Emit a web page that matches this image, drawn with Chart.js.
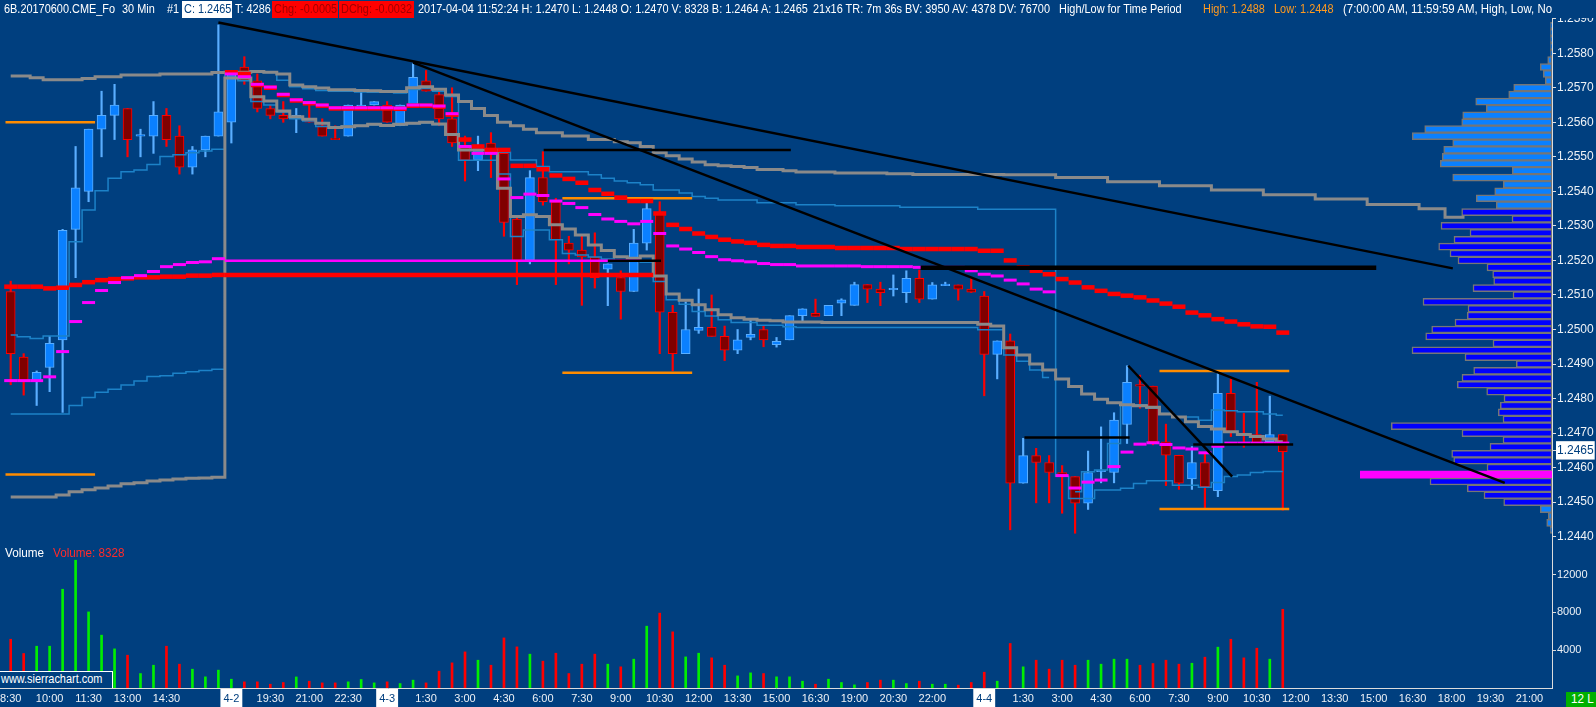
<!DOCTYPE html>
<html><head><meta charset="utf-8"><title>6B.20170600.CME_Fo 30 Min</title>
<script src="https://cdn.jsdelivr.net/npm/chart.js@4.4.1/dist/chart.umd.min.js"></script>
<style>
html,body{margin:0;padding:0;background:#003f7f;}
#wrap{position:relative;width:1596px;height:707px;overflow:hidden;background:#003f7f;}
canvas{position:absolute;display:block;}
.t{position:absolute;top:0;height:18px;line-height:18px;font-family:"Liberation Sans",Arial,sans-serif;font-size:13px;color:#fff;white-space:nowrap;transform:scaleX(0.84);transform-origin:0 0;}
.bx{position:absolute;top:1px;height:17px;overflow:hidden;}
.bx .t{top:-1px;left:2px;}
</style></head>
<body><div id="wrap">
<canvas id="vp" width="1552" height="527" style="left:0;top:18px;width:1552px;height:527px"></canvas>
<canvas id="price" width="1596" height="527" style="left:0;top:18px;width:1596px;height:527px"></canvas>
<canvas id="vol" width="1596" height="162" style="left:0;top:545px;width:1596px;height:162px"></canvas>
<div id="hdr" style="position:absolute;left:0;top:0;width:1552px;height:18px;overflow:hidden;">
 <span class="t" style="left:4px">6B.20170600.CME_Fo</span>
 <span class="t" style="left:122px">30 Min</span>
 <span class="t" style="left:167px">#1</span>
 <div class="bx" style="left:182px;width:50px;background:#fff"><span class="t" style="color:#003f7f">C: 1.2465</span></div>
 <span class="t" style="left:235px">T: 4286</span>
 <div class="bx" style="left:272px;width:66px;background:#f00"><span class="t" style="color:#a00000">Chg: -0.0005</span></div>
 <div class="bx" style="left:339px;width:75px;background:#f00"><span class="t" style="color:#a00000">DChg: -0.0032</span></div>
 <span class="t" style="left:418px">2017-04-04 11:52:24 H: 1.2470 L: 1.2448 O: 1.2470 V: 8328 B: 1.2464 A: 1.2465</span>
 <span class="t" style="left:813px">21x16 TR: 7m 36s BV: 3950 AV: 4378 DV: 76700</span>
 <span class="t" style="left:1059px">High/Low for Time Period</span>
 <span class="t" style="left:1203px;color:#ff9a1f">High: 1.2488</span>
 <span class="t" style="left:1274px;color:#ff9a1f">Low: 1.2448</span>
 <span class="t" style="left:1343px;transform:scaleX(0.88)">(7:00:00 AM, 11:59:59 AM, High, Low, No</span>
</div>
<span class="t" style="left:5px;top:544px;transform:scaleX(0.9)">Volume</span>
<span class="t" style="left:53px;top:544px;color:#ff2a2a;transform:scaleX(0.9)">Volume: 8328</span>
<div style="position:absolute;left:0;top:671px;width:112px;height:16px;border-top:1px solid #fff;border-right:1px solid #fff;background:#003f7f;overflow:hidden">
 <span class="t" style="left:1px;top:-1px;height:16px;line-height:16px">www.sierrachart.com</span></div>
<div style="position:absolute;left:1566px;top:692px;width:30px;height:15px;background:#00b000;overflow:hidden">
 <span class="t" style="left:5px;top:-2px;transform:scaleX(0.9)">12 L</span></div>
</div>
<script>
// ---------- DATA ----------
const opens = [1.2511,1.2492,1.2485,1.2489,1.2497,1.2529,1.2540,1.2558,1.2562,1.2564,
 1.2556,1.2556,1.2562,1.2556,1.2547,1.2552,1.2556,1.2560,1.2576,1.2572,
 1.2564,1.2562,1.2561,1.2561,1.2559,1.25552,1.2556,1.25644,1.2565,1.2565,
 1.2559,1.2565,1.2572,1.2568,1.2561,1.2553,1.2549,1.2554,1.2551,1.2532,
 1.2520,1.2544,1.2537,1.2525,1.2523,1.2521,1.25175,1.2515,1.2511,1.2525,
 1.2534,1.2505,1.2493,1.24997,1.25006,1.2498,1.2494,1.24977,1.2500,1.24956,
 1.2497,1.2504,1.25047,1.2504,1.25076,1.2507,1.2513,1.25117,1.25115,1.25107,
 1.25148,1.25088,1.25127,1.25129,1.25117,1.25097,1.24928,1.24967,1.24555,1.24635,
 1.24615,1.24586,1.24574,1.24497,1.24588,1.24586,1.24725,1.24838,1.24836,1.24675,
 1.24636,1.24567,1.24615,1.24533,1.24815,1.24700,1.24696,1.24675,1.24696];
const highs = [1.2514,1.2493,1.2488,1.2498,1.2529,1.2553,1.2558,1.2569,1.2571,1.2564,
 1.2558,1.2566,1.2564,1.2559,1.2553,1.2556,1.25882,1.2575,1.2579,1.2574,
 1.2565,1.2566,1.2564,1.2565,1.2561,1.2559,1.2565,1.2569,1.2566,1.2566,
 1.2565,1.2577,1.2575,1.2569,1.2570,1.2556,1.2556,1.2557,1.2552,1.2533,
 1.2546,1.25515,1.2538,1.2527,1.2527,1.2528,1.2519,1.2517,1.2529,1.2537,
 1.2537,1.2507,1.2508,1.25117,1.2510,1.2501,1.2500,1.2503,1.2501,1.24977,
 1.2504,1.2506,1.25088,1.2507,1.25089,1.25137,1.2513,1.25137,1.25158,1.25170,
 1.25172,1.25136,1.25137,1.25129,1.25151,1.25110,1.24967,1.24987,1.24685,1.24656,
 1.24635,1.24606,1.24574,1.24648,1.24718,1.24759,1.24895,1.24868,1.24836,1.24726,
 1.24636,1.24661,1.24643,1.24876,1.24857,1.24757,1.24847,1.24807,1.24696];
const lows = [1.2484,1.2481,1.2478,1.2482,1.2476,1.2515,1.2537,1.2550,1.2555,1.2550,
 1.2550,1.2551,1.2553,1.2545,1.2545,1.2550,1.2556,1.2554,1.2571,1.2563,
 1.2561,1.2560,1.2557,1.2560,1.2556,1.2555,1.2556,1.2564,1.2565,1.2560,
 1.2559,1.2565,1.2569,1.2559,1.2553,1.2543,1.2546,1.2544,1.2527,1.2513,
 1.2519,1.2536,1.2513,1.2519,1.2507,1.2512,1.25069,1.2503,1.2511,1.2523,
 1.2493,1.2488,1.2493,1.24989,1.2498,1.2491,1.2493,1.2497,1.2495,1.24949,
 1.2497,1.2502,1.25038,1.2504,1.25040,1.2507,1.25078,1.25069,1.25097,1.25078,
 1.25078,1.25088,1.25127,1.25085,1.25107,1.24808,1.24857,1.2442,1.24555,1.24498,
 1.24498,1.24468,1.2441,1.24479,1.24556,1.24556,1.24670,1.24772,1.24666,1.24548,
 1.24537,1.24537,1.24479,1.24516,1.24690,1.24659,1.24672,1.24675,1.24477];
const closes = [1.2493,1.2485,1.24876,1.2496,1.25287,1.2541,1.2558,1.2562,1.2565,1.2555,
 1.25562,1.2562,1.2555,1.2547,1.2552,1.2556,1.2563,1.2574,1.2572,1.2564,
 1.2562,1.2561,1.2562,1.2560,1.2556,1.2555,1.2565,1.2565,1.2566,1.2560,
 1.2565,1.2573,1.2569,1.2561,1.2554,1.2549,1.2553,1.2552,1.2531,1.2520,
 1.2544,1.2537,1.2526,1.2523,1.2521,1.2515,1.2519,1.2511,1.2525,1.2535,
 1.2505,1.2493,1.2500,1.25006,1.2498,1.2494,1.2497,1.24986,1.2497,1.24966,
 1.2504,1.2506,1.25038,1.2507,1.25086,1.2513,1.25117,1.25107,1.25117,1.25148,
 1.25088,1.25129,1.25129,1.25117,1.25108,1.24928,1.24967,1.24555,1.24635,1.24615,
 1.24586,1.24579,1.24497,1.24586,1.24593,1.24738,1.24847,1.24836,1.24675,1.24636,
 1.24555,1.24615,1.24545,1.24815,1.24704,1.24695,1.24672,1.24696,1.24646];
const volumes = [5160,3650,4420,4420,10450,13520,8050,5590,4140,3470,
 1530,2410,4420,2520,1990,1180,1890,930,650,650,
 400,580,1170,720,540,540,650,900,540,650,
 470,830,540,1780,2660,3820,2940,2410,5300,4350,
 3580,2840,3680,1530,2520,3580,2520,2240,3050,6540,
 7920,5940,3290,3680,3190,2410,1280,1600,1530,1180,
 1180,720,400,930,580,330,580,830,830,470,
 720,400,400,300,580,1670,720,4710,2240,2940,
 1990,2940,2410,2940,2520,3050,3050,2410,2590,2940,
 2520,2620,3260,4320,5160,3190,4210,3050,8328];
// step-line studies (one value per bar, bar index = array index)
const grayUpper = [1.25734,1.25734,1.25729,1.25723,1.25723,1.25723,1.25727,1.25732,1.25732,1.25737,
 1.25737,1.25737,1.25740,1.25740,1.25740,1.25740,1.25744,1.25745,1.25745,1.25747,
 1.25745,1.25740,1.25708,1.25703,1.25699,1.25694,1.25694,1.25692,1.25691,1.25689,
 1.25689,1.25700,1.25703,1.25696,1.25679,1.2566,1.2564,1.2562,1.2560,1.2559,
 1.2558,1.2557,1.2557,1.2556,1.2556,1.2555,1.2555,1.25544,1.25541,1.25530,
 1.25512,1.25503,1.25494,1.25485,1.25477,1.25474,1.25472,1.25469,1.25463,1.25463,
 1.25460,1.25456,1.25456,1.25456,1.25453,1.25453,1.25453,1.25453,1.25451,1.25451,
 1.25449,1.25449,1.25449,1.25449,1.25449,1.25449,1.25449,1.25448,1.25448,1.25448,
 1.25448,1.25440,1.25440,1.25440,1.25440,1.25428,1.25428,1.25428,1.25428,1.25416,
 1.25416,1.25416,1.25416,1.25404,1.25404,1.25404,1.25404,1.25390,1.25390,1.25390,
 1.25390,1.25378,1.25378,1.25378,1.25378,1.25362,1.25362,1.25362,1.25362,1.25350,
 1.25350,1.25325,1.25325];
const grayLower = [1.24515,1.24515,1.24515,1.24515,1.24521,1.24530,1.24536,1.24541,1.24547,1.24553,
 1.24556,1.24561,1.24564,1.24567,1.24569,1.24570,1.24572,1.25728,1.25728,1.25674,
 1.25662,1.25633,1.25616,1.25609,1.25597,1.25585,1.25587,1.25590,1.25594,1.25591,
 1.25594,1.25597,1.25600,1.25595,1.25565,1.2552,1.2552,1.2552,1.25409,1.25327,
 1.25332,1.25327,1.25303,1.25291,1.25274,1.25245,1.25229,1.25211,1.25206,1.25213,
 1.25155,1.25103,1.25085,1.25072,1.25057,1.25043,1.25034,1.25030,1.25027,1.25025,
 1.25022,1.25022,1.25022,1.25020,1.25020,1.25020,1.25020,1.25020,1.25020,1.25020,
 1.25020,1.25020,1.25020,1.25020,1.25020,1.25015,1.25010,1.24947,1.24926,1.24900,
 1.24883,1.24857,1.24835,1.24813,1.24798,1.24788,1.24782,1.24779,1.24775,1.24755,
 1.24747,1.24733,1.24719,1.24712,1.24704,1.24696,1.24690,1.24683,1.24675];
const tealUpper = [1.24984,1.24979,1.24974,1.24981,1.24981,1.25254,1.25346,1.25402,1.25438,1.25457,
 1.25462,1.25478,1.25501,1.25506,1.25512,1.25517,1.25522,1.25741,1.25744,1.25747,
 1.25744,1.25722,1.25703,1.25697,1.25692,1.25690,1.25690,1.25688,1.25687,1.25687,
 1.25685,1.25695,1.25698,1.25690,1.25675,1.2553,1.2552,1.2552,1.25513,1.25491,
 1.25491,1.25472,1.25457,1.25457,1.25457,1.25448,1.25438,1.25430,1.25425,1.25419,
 1.25404,1.25404,1.25395,1.25385,1.25380,1.25375,1.25375,1.25375,1.25367,1.25367,
 1.25367,1.25361,1.25361,1.25361,1.25358,1.25358,1.25358,1.25358,1.25358,1.25354,
 1.25354,1.25354,1.25354,1.25354,1.25354,1.25348,1.25348,1.25348,1.25348,1.25348,
 1.25348,1.24575,1.24511,1.24511,1.24535,1.24535,1.24540,1.24554,1.24562,1.24562,
 1.24549,1.24549,1.24543,1.24557,1.24574,1.24579,1.24586,1.24589,1.24589];
const tealLower = [1.24755,1.24755,1.24755,1.24755,1.24755,1.24780,1.24803,1.24818,1.24827,1.24839,
 1.24851,1.24864,1.24866,1.24873,1.24878,1.24881,1.24885,1.25730,1.25720,1.25660,
 1.25650,1.25630,1.25610,1.25604,1.25588,1.25585,1.25590,1.25591,1.25592,1.25590,
 1.25593,1.25596,1.25598,1.25593,1.25563,1.2549,1.2549,1.2549,1.2545,1.25269,
 1.25288,1.25288,1.25260,1.25220,1.25216,1.25210,1.25204,1.25200,1.25200,1.25195,
 1.25139,1.25086,1.25073,1.25052,1.25039,1.25028,1.25020,1.25020,1.25012,1.25012,
 1.25008,1.25006,1.25006,1.25006,1.25006,1.25006,1.25006,1.25006,1.25006,1.25006,
 1.25006,1.25006,1.25006,1.25006,1.25006,1.24999,1.24999,1.24926,1.24908,1.24883,
 1.24861];
const tealNewStart = 82;
const tealNew = [1.24530,1.24588,1.24593,1.24670,1.24782,1.24782,1.24772,1.24757,1.24747,1.24747,
 1.24737,1.24767,1.24765,1.24762,1.24762,1.24755,1.24752];
const redStudy = [1.25124,1.25124,1.25124,1.25119,1.25121,1.25129,1.25137,1.25143,1.25146,1.25148,
 1.25151,1.25151,1.25153,1.25153,1.25156,1.25156,1.25158,1.25745,1.25740,1.25708,
 1.25700,1.25679,1.25663,1.25655,1.25648,1.25640,1.25640,1.25640,1.25640,1.25640,
 1.25639,1.25648,1.25648,1.25645,1.25622,1.2555,1.2553,1.2552,1.2552,1.25474,
 1.25474,1.25464,1.25446,1.25436,1.25425,1.25404,1.25393,1.25382,1.25372,1.25372,
 1.25336,1.25303,1.25291,1.25278,1.25268,1.25260,1.25255,1.25251,1.25245,1.25242,
 1.25242,1.25239,1.25239,1.25239,1.25236,1.25236,1.25236,1.25236,1.25236,1.25233,
 1.25233,1.25233,1.25233,1.25233,1.25233,1.25228,1.25228,1.2520,1.2518,1.25170,
 1.25160,1.25146,1.25136,1.25122,1.25112,1.25103,1.25098,1.25093,1.25084,1.25075,
 1.25066,1.25049,1.25041,1.25030,1.25023,1.25015,1.25009,1.25008,1.24991];
const magStudy = [1.24852,1.24852,1.24852,1.24863,1.24936,1.25023,1.25078,1.25113,1.25136,1.25150,
 1.25156,1.25168,1.25182,1.25188,1.25194,1.25196,1.25205,1.25740,1.25732,1.25710,
 1.25702,1.25681,1.25665,1.25657,1.25650,1.25642,1.25642,1.25642,1.25642,1.25642,
 1.25641,1.25650,1.25650,1.25647,1.25625,1.2553,1.2551,1.2551,1.25436,1.25382,
 1.25392,1.25388,1.25372,1.25365,1.25353,1.25333,1.25320,1.25313,1.25306,1.25313,
 1.25278,1.25242,1.25233,1.25223,1.25211,1.25202,1.25199,1.25196,1.25191,1.25188,
 1.25188,1.25184,1.25184,1.25184,1.25184,1.25184,1.25182,1.25182,1.25182,1.25182,
 1.25180,1.25180,1.25180,1.25180,1.25170,1.25160,1.25155,1.25143,1.25132,1.25117,
 1.25109,1.24577,1.24541,1.24558,1.24564,1.24603,1.24645,1.24668,1.24672,1.24667,
 1.24657,1.24654,1.24643,1.24662,1.24671,1.24671,1.24671,1.24671,1.24671];
// prior-session study values carried forward: [fromBar, toBar, price]
const redPrior = [16.5, 49.5, 1.25158];
const magPrior = [16.5, 48.5, 1.25199];
// High/Low for time period 7:00-11:59: [fromBar, toBar, price]
const periodHighLow = [[-0.4,6.5,1.2560],[-0.4,6.5,1.2458],[42.5,52.5,1.2538],[42.5,52.5,1.24875],[88.5,98.5,1.2488],[88.5,98.5,1.2448]];
// drawn trendlines: [bar0, price0, bar1, price1]
const trendLines = [[16.0,1.25889,111.1,1.25177],[31.0,1.25773,115.1,1.24556],[86.1,1.24895,94.1,1.24574]];
const thinLevels = [[41.06,60.1,1.2552],[46.0,50.1,1.25199],[78.1,86.2,1.24687],[91.1,98.8,1.24667]];
const thickLevels = [[70.1,105.2,1.25179]];
// volume profile
const vpPrice = [1.2588,1.2586,1.2584,1.2582,1.2580,1.2578,1.2576,1.2574,1.2572,1.2570,
 1.2568,1.2566,1.2564,1.2562,1.2560,1.2558,1.2556,1.2554,1.2552,1.2550,
 1.2548,1.2546,1.2544,1.2542,1.2540,1.2538,1.2536,1.2534,1.2532,1.2530,
 1.2528,1.2526,1.2524,1.2522,1.2520,1.2518,1.2516,1.2514,1.2512,1.2510,
 1.2508,1.2506,1.2504,1.2502,1.2500,1.2498,1.2496,1.2494,1.2492,1.2490,
 1.2488,1.2486,1.2484,1.2482,1.2480,1.2478,1.2476,1.2474,1.2472,1.2470,
 1.2468,1.2466,1.2464,1.2462,1.2460,1.2458,1.2456,1.2454,1.2452,1.2450,
 1.2448,1.2446,1.2444,1.2442];
const vpVolume = [54,54,54,54,54,155,421,313,241,1379,
 1559,2747,2365,3215,3251,4583,5029,3575,3899,3949,
 4021,1429,3575,1753,2063,2725,2005,3251,1440,3996,
 2952,3528,4079,3672,3384,2340,2135,2099,2844,1404,
 4644,3024,3049,3492,4331,4547,2124,5040,3132,1285,
 2819,3240,3409,2351,1728,1861,1933,1764,5785,3240,
 1764,2232,3611,3539,2340,6900,4392,3049,2448,1739,
 421,133,191,61];
const vpValueHigh = 1.2534, vpValueLow = 1.2450, vpPOC = 1.2458;
// axis labels
const priceTicks = [1.2440,1.2450,1.2460,1.2465,1.2470,1.2480,1.2490,1.2500,1.2510,1.2520,1.2530,1.2540,1.2550,1.2560,1.2570,1.2580,1.2590];
const lastPrice = 1.2465;
const volTicks = [4000,8000,12000];
const xLabelIdx = [0,3,6,9,12,17,20,23,26,29,32,35,38,41,44,47,50,53,56,59,62,65,68,71,75,78,81,84,87,90,93,96,99,102,105,108,111,114,117];
const xLabelText = ["8:30","10:00","11:30","13:00","14:30","4-2","19:30","21:00","22:30","4-3","1:30","3:00","4:30","6:00","7:30","9:00","10:30","12:00","13:30","15:00","16:30","19:00","20:30","22:00","4-4","1:30","3:00","4:30","6:00","7:30","9:00","10:30","12:00","13:30","15:00","16:30","18:00","19:30","21:00"];

// ---------- LAYOUT / STYLE ----------
const PMIN = 1.24376, PMAX = 1.25902, VMAX = 15130;
const XMIN = -0.824, XMAX = 118.74;
const AXW = 44;
const VP_XMAX = 55872;
const C = {up:'#0a80ff', upEdge:'#5aaeff', dn:'#800000', dnEdge:'#ff0000', gray:'#8a8a8a', teal:'#1c82c8',
  red:'#ff0000', mag:'#ff00ff', orange:'#ff8c00', black:'#000000', axis:'#dcdcdc', text:'#eef2f6',
  vol_up:'#00ee00', vol_dn:'#ff0000', vpLight:'#0a80ff', vpDark:'#0000ff', vpEdge:'#767676', bg:'#003f7f'};
Chart.defaults.font.family = '"Liberation Sans", Arial, sans-serif';
Chart.defaults.animation = false;
const LAYOUT = {padding:0, autoPadding:false};

const isUp = i => closes[i] >= opens[i];
const seriesPts = (arr, start=0) => arr.map((v,k)=>({x:k+start, y:v}));
const segPts = s => [{x:s[0],y:s[2]},{x:s[1],y:s[2]}];
const stepDs = (arr, color, width, order, start=0) => ({type:'line', data:seriesPts(arr,start), borderColor:color, borderWidth:width, stepped:'middle', pointRadius:0, fill:false, order, spanGaps:false});
const dashDs = (arr, color, width, order) => ({type:'line', data:seriesPts(arr), showLine:false, pointStyle:'line', pointRadius:6.49, pointBorderWidth:width, pointBorderColor:color, pointBackgroundColor:color, order});
const segDs = (s, color, width, order) => ({type:'line', data:segPts(s), borderColor:color, borderWidth:width, pointRadius:0, fill:false, order});
const lineDs = (t, color, width, order) => ({type:'line', data:[{x:t[0],y:t[1]},{x:t[2],y:t[3]}], borderColor:color, borderWidth:width, pointRadius:0, fill:false, order});

const yAxisCommon = () => ({
  position:'right', bounds:'data', beginAtZero:false, offset:false,
  afterFit: s => { s.width = AXW; s.paddingTop = 0; s.paddingBottom = 0; },
  grid:{display:true, drawOnChartArea:false, drawTicks:true, tickLength:4, color:C.axis},
  border:{display:true, color:C.axis, width:1},
});

// ---------- VOLUME PROFILE (underneath) ----------
const vpColor = p => Math.abs(p-vpPOC)<1e-7 ? C.mag : (p <= vpValueHigh+1e-7 && p >= vpValueLow-1e-7 ? C.vpDark : C.vpLight);
new Chart(document.getElementById('vp'), {
  type:'bar',
  data:{datasets:[{
    data: vpPrice.map((p,i)=>({x:vpVolume[i], y:p})),
    backgroundColor: c => vpColor(vpPrice[c.dataIndex]),
    borderColor: C.vpEdge,
    borderWidth: c => Math.abs(vpPrice[c.dataIndex]-vpPOC)<1e-7 ? 0 : 1.5,
    borderSkipped:false, barThickness:7, grouped:false
  }]},
  options:{indexAxis:'y', responsive:false, animation:false, events:[], layout:LAYOUT,
    plugins:{legend:{display:false}, tooltip:{enabled:false}},
    scales:{
      x:{type:'linear', reverse:true, min:0, max:VP_XMAX, display:false, bounds:'data'},
      y:{type:'linear', min:PMIN, max:PMAX, offset:false, display:false, bounds:'data'}
    }}
});

// ---------- PRICE CHART ----------
const priceDatasets = [
  {type:'bar', data: opens.map((o,i)=>({x:i, y:[lows[i], highs[i]]})), backgroundColor: c=> isUp(c.dataIndex)?C.upEdge:C.dnEdge,
    borderWidth:0, barThickness:1.5, grouped:false, order:9},
  {type:'bar', data: opens.map((o,i)=>({x:i, y:[o, closes[i]]})), backgroundColor: c=> isUp(c.dataIndex)?C.up:C.dn,
    borderColor: c=> isUp(c.dataIndex)?C.upEdge:C.dnEdge, borderWidth:1, borderSkipped:false, minBarLength:1.5,
    barThickness:9, grouped:false, order:8},
  stepDs(tealUpper, C.teal, 1.5, 7),
  stepDs(tealLower, C.teal, 1.5, 7),
  stepDs(tealNew, C.teal, 1.5, 7, tealNewStart),
  stepDs(grayUpper, C.gray, 3, 6),
  stepDs(grayLower, C.gray, 3, 6),
  ...periodHighLow.map(s=>segDs(s, C.orange, 2.5, 5)),
  segDs(redPrior, C.red, 4.5, 4),
  dashDs(redStudy, C.red, 4.5, 4),
  segDs(magPrior, C.mag, 2.5, 3),
  dashDs(magStudy, C.mag, 3, 3),
  ...trendLines.map(t=>lineDs(t, C.black, 2.5, 1)),
  ...thinLevels.map(s=>segDs(s, C.black, 2.5, 1)),
  ...thickLevels.map(s=>segDs(s, C.black, 4.5, 1)),
];
new Chart(document.getElementById('price'), {
  type:'bar',
  data:{datasets: priceDatasets},
  options:{responsive:false, animation:false, events:[], layout:LAYOUT,
    plugins:{legend:{display:false}, tooltip:{enabled:false}},
    scales:{
      x:{type:'linear', min:XMIN, max:XMAX, offset:false, display:false, bounds:'data', grid:{display:false}},
      y:Object.assign(yAxisCommon(), {type:'linear', min:PMIN, max:PMAX,
        afterBuildTicks: s => { s.ticks = priceTicks.map(v=>({value:v})); },
        ticks:{autoSkip:false, padding:1, font:{size:12},
          callback: v => Number(v).toFixed(4),
          color: c => (c.tick && Math.abs(c.tick.value-lastPrice)<1e-7) ? C.bg : C.text,
          showLabelBackdrop:true,
          backdropColor: c => (c.tick && Math.abs(c.tick.value-lastPrice)<1e-7) ? '#ffffff' : 'rgba(0,0,0,0)',
          backdropPadding:{x:1, y:2}}
      })
    }}
});

// ---------- VOLUME CHART ----------
const isDateLbl = v => { const k = xLabelIdx.indexOf(v); return k>=0 && xLabelText[k].indexOf('-')>0; };
new Chart(document.getElementById('vol'), {
  type:'bar',
  data:{datasets:[{data: volumes.map((v,i)=>({x:i,y:v})), backgroundColor: c=> isUp(c.dataIndex)?C.vol_up:C.vol_dn,
    borderWidth:0, barThickness:2, grouped:false}]},
  options:{responsive:false, animation:false, events:[], layout:LAYOUT,
    plugins:{legend:{display:false}, tooltip:{enabled:false}},
    scales:{
      x:{type:'linear', position:'bottom', min:XMIN, max:XMAX, offset:false, bounds:'data',
        afterBuildTicks: s => { s.ticks = xLabelIdx.map(v=>({value:v})); },
        afterFit: s => { s.height = 19; s.paddingLeft = 0; s.paddingRight = 0; },
        grid:{display:false, drawTicks:false},
        border:{display:true, color:C.axis, width:1},
        ticks:{autoSkip:false, maxRotation:0, minRotation:0, padding:4, font:{size:11},
          callback: v => { const k = xLabelIdx.indexOf(v); return k>=0 ? xLabelText[k] : ''; },
          color: c => isDateLbl(c.tick.value) ? C.bg : C.text,
          showLabelBackdrop:true,
          backdropColor: c => isDateLbl(c.tick.value) ? '#ffffff' : 'rgba(0,0,0,0)',
          backdropPadding:{x:3, y:3}}
      },
      y:Object.assign(yAxisCommon(), {type:'linear', min:0, max:VMAX,
        afterBuildTicks: s => { s.ticks = volTicks.map(v=>({value:v})); },
        ticks:{autoSkip:false, padding:1, font:{size:11}, color:C.text, callback: v => String(v)}
      })
    }}
});
</script>
</body></html>
